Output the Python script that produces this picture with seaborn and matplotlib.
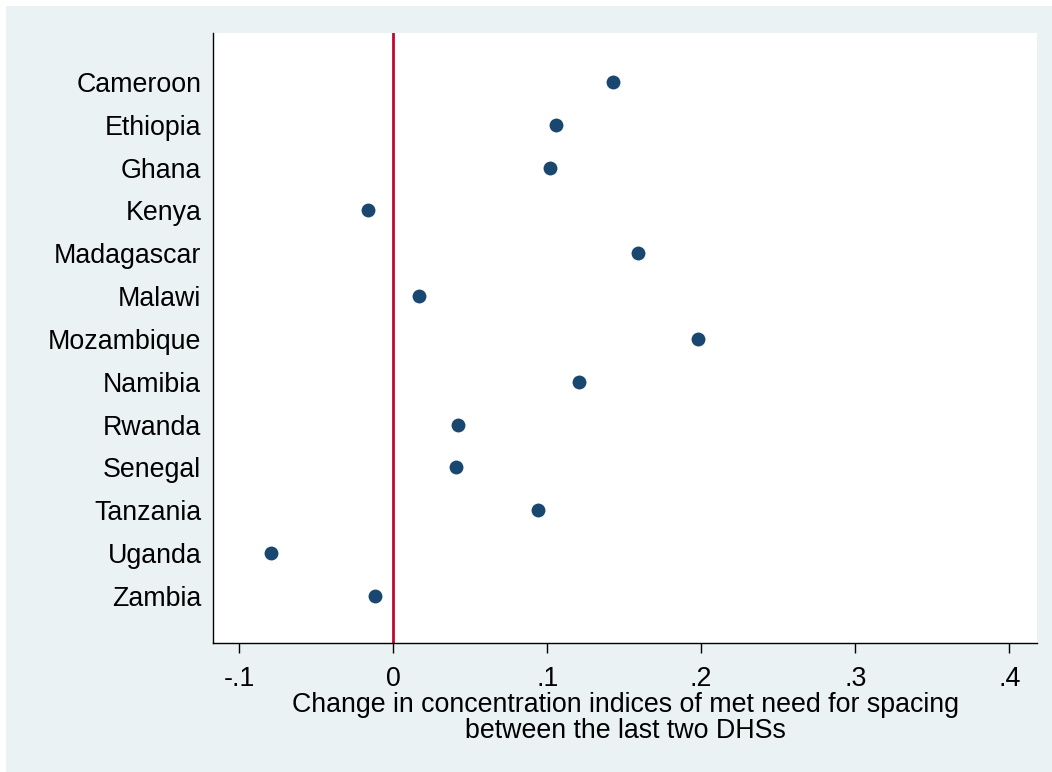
import pandas as pd
import matplotlib
matplotlib.use("Agg")
import matplotlib.pyplot as plt
import seaborn as sns
from matplotlib.patches import Rectangle

# Datos
countries = ["Cameroon", "Ethiopia", "Ghana", "Kenya", "Madagascar", "Malawi",
             "Mozambique", "Namibia", "Rwanda", "Senegal", "Tanzania", "Uganda", "Zambia"]
change = [0.143, 0.106, 0.102, -0.016, 0.159, 0.017,
          0.198, 0.121, 0.042, 0.041, 0.094, -0.079, -0.012]
xticks = [-0.1, 0, 0.1, 0.2, 0.3, 0.4]
xticklabels = ["-.1", "0", ".1", ".2", ".3", ".4"]

df = pd.DataFrame({"country": countries, "change": change})

sns.set_theme(style="white")
plt.rcParams['font.family'] = ['Liberation Sans', 'DejaVu Sans']
plt.rcParams['text.color'] = 'black'
plt.rcParams['xtick.color'] = 'black'
plt.rcParams['ytick.color'] = 'black'
plt.rcParams['axes.labelcolor'] = 'black'

W, H = 1052, 772
fig = plt.figure(figsize=(W / 100, H / 100), dpi=100, facecolor="white")
# fondo azul claro estilo Stata
fig.patches.append(Rectangle((6 / W, 0), 1, 1 - 6 / H, transform=fig.transFigure,
                             facecolor="#EAF2F3", edgecolor="none", zorder=-10))

ax = fig.add_axes([213 / W, (H - 643) / H, (1037 - 213) / W, (643 - 33) / H])
ax.set_facecolor("white")

ax.axvline(0, color="#C10534", lw=2, zorder=1)
sns.stripplot(data=df, x="change", y="country", order=countries, jitter=False,
              color="#1A476F", size=10, linewidth=0, ax=ax, zorder=3)

ax.set_xlim(-0.1169, 0.418)
ax.set_ylim(13.1, -1.14)
ax.set_xticks(xticks)
ax.set_xticklabels(xticklabels)

ax.tick_params(axis="x", direction="out", length=7.5, width=1, color="black",
               labelsize=19.3, pad=9, bottom=True)
ax.tick_params(axis="y", length=0, labelsize=19.3, pad=8.5)

ax.set_xlabel("Change in concentration indices of met need for spacing\nbetween the last two DHSs",
              fontsize=19.3, labelpad=0, linespacing=1.0)
ax.set_ylabel("")

for s in ["top", "right"]:
    ax.spines[s].set_visible(False)
for s in ["left", "bottom"]:
    ax.spines[s].set_color("black")
    ax.spines[s].set_linewidth(1)

fig.savefig("out.png", dpi=100, facecolor=fig.get_facecolor())
